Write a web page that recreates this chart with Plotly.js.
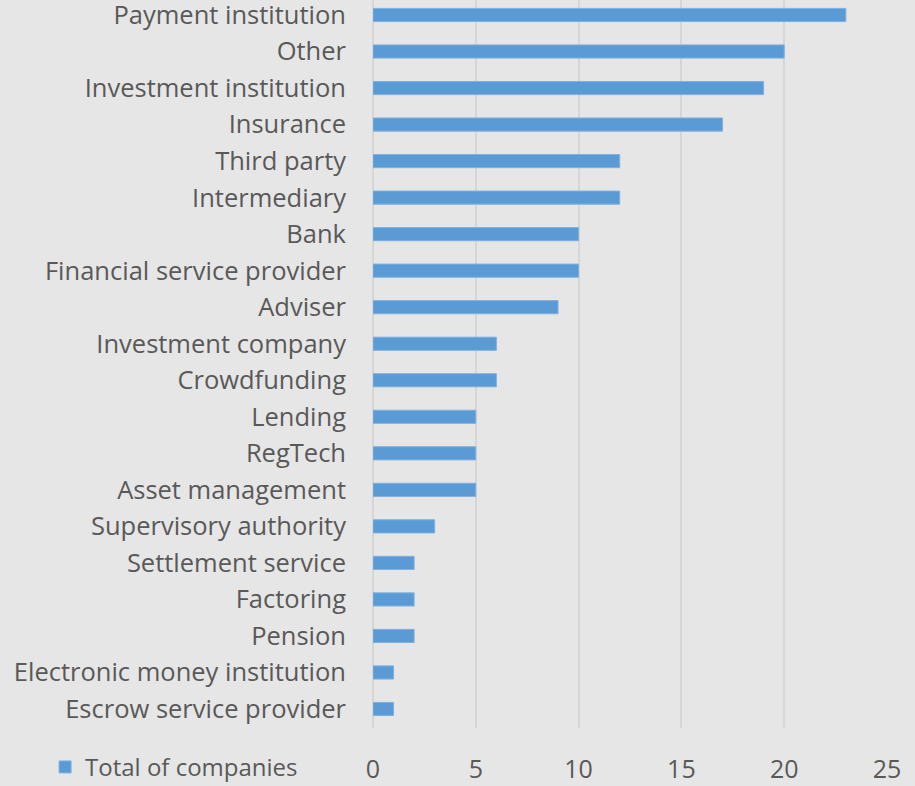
<!DOCTYPE html>
<html><head><meta charset="utf-8">
<script src="https://cdn.plot.ly/plotly-3.0.1.min.js"></script>
<style>body{margin:0;background:#e6e6e6}</style>
</head><body>
<div id="chart" style="width:915px;height:786px"></div>
<script>
const categories = ["Payment institution","Other","Investment institution","Insurance","Third party","Intermediary","Bank","Financial service provider","Adviser","Investment company","Crowdfunding","Lending","RegTech","Asset management","Supervisory authority","Settlement service","Factoring","Pension","Electronic money institution","Escrow service provider"];
const totals = [23,20,19,17,12,12,10,10,9,6,6,5,5,5,3,2,2,2,1,1];
const xTicks = [0,5,10,15,20,25];
const seriesName = "Total of companies";

const font = "'Open Sans', sans-serif";
Plotly.newPlot("chart", [{
  type: "bar", orientation: "h",
  x: totals, y: categories, name: seriesName,
  width: 0.36,
  marker: {color: "#5b9bd5", line: {color: "#7fb0df", width: 1}},
  hoverinfo: "x+y"
}], {
  width: 915, height: 786,
  paper_bgcolor: "#e6e6e6", plot_bgcolor: "#e6e6e6",
  margin: {l: 373, r: 28, t: 0, b: 58, autoexpand: false},
  font: {family: font, color: "#595959", size: 22},
  xaxis: {range: [0, 25], tickvals: xTicks, ticktext: xTicks.map(String), automargin: false,
    showgrid: true, gridcolor: "#d6d6d6", gridwidth: 1.5, zeroline: true, zerolinecolor: "#d6d6d6", zerolinewidth: 1.5,
    ticks: "", ticklabelstandoff: 24, tickfont: {size: 25, family: font, color: "#595959"}, fixedrange: true},
  yaxis: {type: "category", range: [19.52, -0.41], ticks: "", ticklabelstandoff: 26, automargin: false,
    tickfont: {size: 25.5, family: font, color: "#595959"}, showgrid: false, zeroline: false},
  showlegend: true,
  legend: {orientation: "h", x: -0.638, y: -0.054, yanchor: "middle", xanchor: "left",
    font: {size: 24, family: font, color: "#595959"}, bgcolor: "rgba(0,0,0,0)", itemwidth: 30, tracegroupgap: 0}
}, {displayModeBar: false});
</script>
</body></html>
